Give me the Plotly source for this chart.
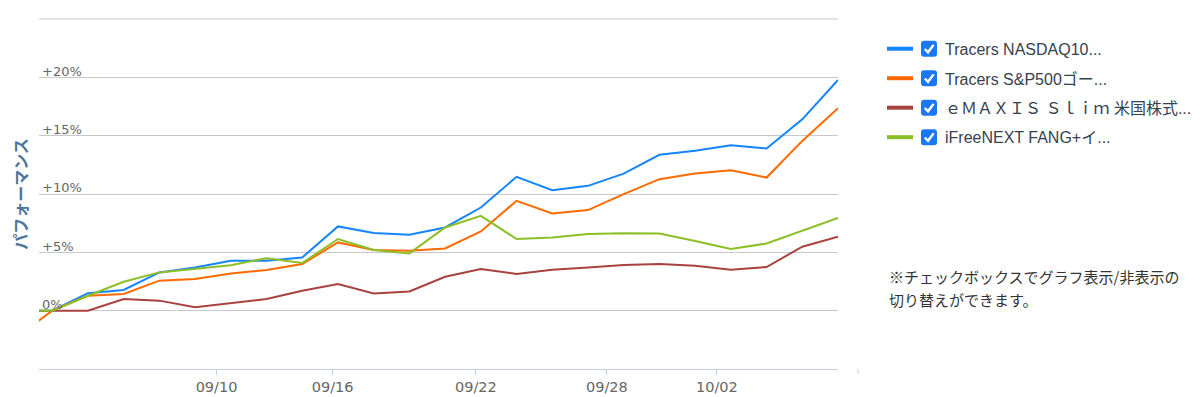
import plotly.graph_objects as go

# ---------------- data ----------------
x_index = list(range(-1, 23))  # trading-day positions (first point lies left of the visible range)

series_names = [
    "Tracers NASDAQ10...",
    "Tracers S&P500ゴー...",
    "ｅＭＡＸＩＳ Ｓｌｉｍ 米国株式...",
    "iFreeNEXT FANG+イ...",
]
series_colors = ["#1585ff", "#ff6a00", "#a8423e", "#8cbf26"]

nasdaq = [0.0, 0.0, 1.50, 1.77, 3.28, 3.70, 4.28, 4.28, 4.56, 7.22, 6.65, 6.50,
          7.13, 8.84, 11.47, 10.33, 10.70, 11.75, 13.36, 13.70, 14.18, 13.90, 16.40, 19.78]
sp500 = [-2.3, 0.0, 1.28, 1.43, 2.57, 2.71, 3.19, 3.48, 4.00, 5.85, 5.20, 5.14,
         5.33, 6.79, 9.42, 8.33, 8.62, 9.99, 11.27, 11.75, 12.04, 11.41, 14.55, 17.35]
emaxis = [0.0, 0.0, 0.0, 1.00, 0.86, 0.29, 0.66, 1.00, 1.70, 2.28, 1.48, 1.65,
          2.91, 3.57, 3.14, 3.50, 3.71, 3.92, 4.00, 3.85, 3.51, 3.74, 5.48, 6.34]
fang = [0.0, 0.0, 1.28, 2.48, 3.28, 3.57, 3.90, 4.50, 4.08, 6.14, 5.20, 4.91,
        7.13, 8.13, 6.14, 6.28, 6.58, 6.64, 6.62, 5.97, 5.28, 5.76, 6.88, 7.94]
series_values = [nasdaq, sp500, emaxis, fang]

x_tick_positions = [0.57, 4.60, 7.85, 11.86, 15.53, 18.61]
x_tick_labels = ["", "09/10", "09/16", "09/22", "09/28", "10/02"]

y_tick_values = [0, 5, 10, 15, 20, 25]
y_tick_labels = ["0%", "+5%", "+10%", "+15%", "+20%", ""]

y_title = "パフォーマンス"
note_lines = ["※チェックボックスでグラフ表示/非表示の", "切り替えができます。"]

# ---------------- layout geometry ----------------
FIG_W, FIG_H = 1200, 397
L, R, T, B = 39, 838, 19, 369
PW, PH = R - L, B - T


def px(x):
    return (x - L) / PW


def py(y):
    return (B - y) / PH


fig = go.Figure()
for name, vals, col in zip(series_names, series_values, series_colors):
    fig.add_trace(go.Scatter(
        x=x_index, y=vals, name=name, mode="lines",
        line=dict(color=col, width=2), showlegend=False,
    ))

shapes = []
annotations = []

# custom legend with check boxes
row_y = [48.7, 78.2, 107.7, 137.2]
for name, col, yc in zip(series_names, series_colors, row_y):
    shapes.append(dict(type="line", xref="paper", yref="paper",
                       x0=px(887), x1=px(913), y0=py(yc), y1=py(yc),
                       line=dict(color=col, width=4)))
    x0, x1, y0, y1, r = 921, 937, yc - 8, yc + 8, 3
    path = (
        f"M {px(x0 + r)} {py(y0)} L {px(x1 - r)} {py(y0)} "
        f"Q {px(x1)} {py(y0)} {px(x1)} {py(y0 + r)} L {px(x1)} {py(y1 - r)} "
        f"Q {px(x1)} {py(y1)} {px(x1 - r)} {py(y1)} L {px(x0 + r)} {py(y1)} "
        f"Q {px(x0)} {py(y1)} {px(x0)} {py(y1 - r)} L {px(x0)} {py(y0 + r)} "
        f"Q {px(x0)} {py(y0)} {px(x0 + r)} {py(y0)} Z"
    )
    shapes.append(dict(type="path", xref="paper", yref="paper", path=path,
                       fillcolor="#1b78f2", line=dict(width=0)))
    check = (f"M {px(924.8)} {py(yc + 0.3)} L {px(928)} {py(yc + 3.6)} "
             f"L {px(933.6)} {py(yc - 3.8)}")
    shapes.append(dict(type="path", xref="paper", yref="paper", path=check,
                       line=dict(color="white", width=2.4)))
    annotations.append(dict(
        xref="paper", yref="paper", x=px(943), y=py(yc + 0.5),
        xanchor="left", yanchor="middle", showarrow=False,
        text=name.replace("&", "&amp;"),
        font=dict(family="Liberation Sans, Noto Sans CJK JP", size=16, color="#36414f"),
    ))

# note text
for k, line in enumerate(note_lines):
    annotations.append(dict(
        xref="paper", yref="paper", x=px(887), y=py(276.5 + 23 * k),
        xanchor="left", yanchor="middle", showarrow=False, text=line,
        font=dict(family="Noto Sans CJK JP", size=15, color="#333333"),
    ))

# top grid line (25%) at the upper edge of the plot area
shapes.append(dict(type="line", xref="paper", yref="paper",
                   x0=0, x1=1, y0=1, y1=1, layer="below",
                   line=dict(color="#c8c8c8", width=1)))

# stray tick mark right of the axis
shapes.append(dict(type="line", xref="paper", yref="paper",
                   x0=px(858), x1=px(858), y0=py(369), y1=py(374),
                   line=dict(color="#c0d0e0", width=1)))

fig.update_layout(
    width=FIG_W, height=FIG_H,
    margin=dict(l=L, r=FIG_W - R, t=T, b=FIG_H - B, pad=0, autoexpand=False),
    paper_bgcolor="white", plot_bgcolor="white",
    shapes=shapes, annotations=annotations,
    font=dict(family="DejaVu Sans", color="#666666"),
)
fig.update_xaxes(
    range=[-0.37, 22.0], tickmode="array", automargin=False,
    tickvals=x_tick_positions, ticktext=x_tick_labels,
    showgrid=False, zeroline=False,
    showline=True, linecolor="#c0d0e0", linewidth=1,
    ticks="outside", ticklen=5, tickcolor="#c0d0e0", tickwidth=1,
    tickfont=dict(family="DejaVu Sans", size=14.5, color="#666666"),
)
fig.update_yaxes(
    range=[-5, 25], tickmode="array", automargin=False,
    tickvals=y_tick_values, ticktext=y_tick_labels,
    showgrid=True, gridcolor="#c8c8c8", gridwidth=1,
    zeroline=False, showline=False, ticks="",
    ticklabelposition="inside top", ticklabelshift=3,
    tickfont=dict(family="DejaVu Sans", size=13, color="#666666"),
    title=dict(text=y_title, standoff=10,
               font=dict(family="Noto Sans CJK JP", size=16, color="#4d759e", weight="bold")),
)

fig.write_html("out.html")
